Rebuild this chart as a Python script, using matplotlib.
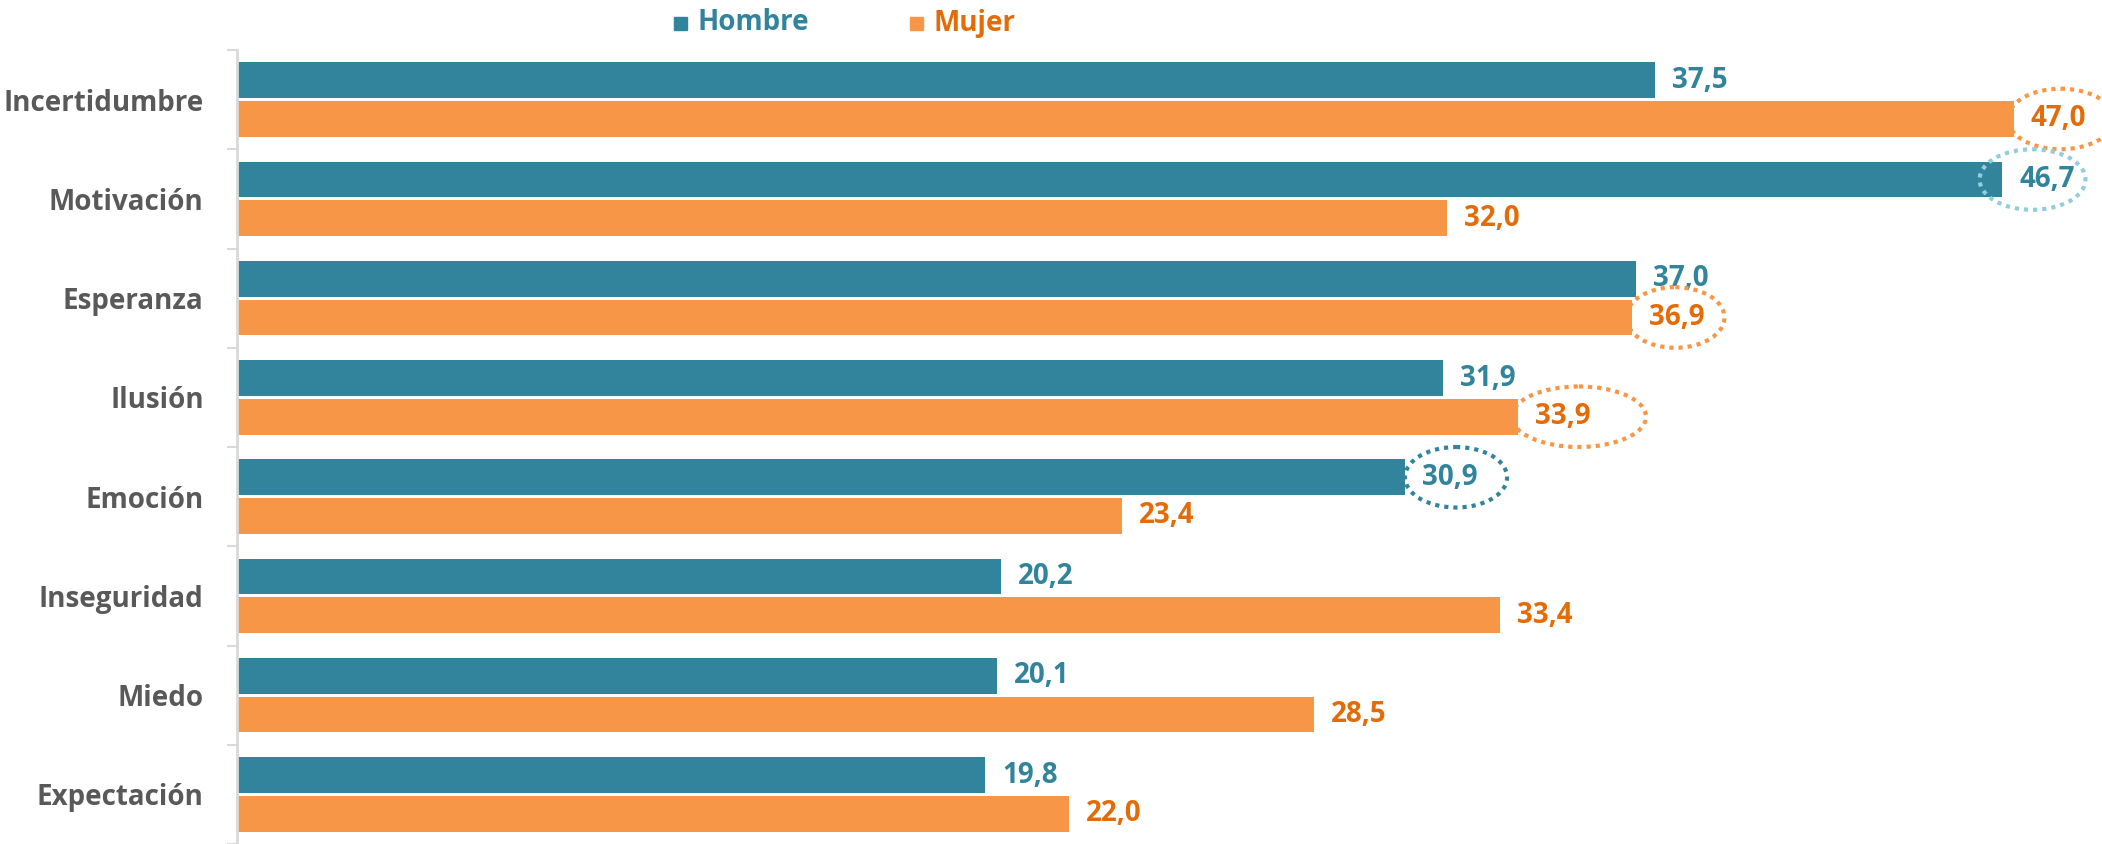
import matplotlib
matplotlib.use("Agg")
import matplotlib.pyplot as plt
from matplotlib.patches import Ellipse, Rectangle
import numpy as np

plt.rcParams["font.family"] = ["Open Sans", "DejaVu Sans"]

categories = ["Incertidumbre", "Motivación", "Esperanza", "Ilusión",
              "Emoción", "Inseguridad", "Miedo", "Expectación"]
hombre = [37.5, 46.7, 37.0, 31.9, 30.9, 20.2, 20.1, 19.8]
mujer = [47.0, 32.0, 36.9, 33.9, 23.4, 33.4, 28.5, 22.0]

# highlighted labels: (series, category index, x offset from bar end, width)
highlights = [
    ("mujer", 0, 1.25, 2.8),
    ("hombre", 1, 0.8, 2.8),
    ("mujer", 2, 1.15, 2.6),
    ("mujer", 3, 1.6, 3.55),
    ("hombre", 4, 1.35, 2.7),
]

C_H = "#31849B"
C_M = "#F79646"
T_H = "#31849B"
T_M = "#E36C09"
RING = {"hombre": C_H, "mujer": C_M}
RING_SPECIAL = {1: "#92CDDC"}
GRAY = "#595959"

W, H = 2102, 844
fig = plt.figure(figsize=(W / 100, H / 100), dpi=100)
ax = fig.add_axes([237 / W, 0, 1 - 237 / W, 1 - 50 / H])

y = np.arange(len(categories))
bh = 0.36
off = 0.195
ax.barh(y - off, hombre, height=bh, color=C_H, zorder=2)
ax.barh(y + off, mujer, height=bh, color=C_M, zorder=2)

ax.set_xlim(0, (W - 237) / 37.8)
ax.set_ylim((H - 100) / 99.7, -0.5)

for i in range(len(categories)):
    ax.text(hombre[i] + 0.45, y[i] - off, f"{hombre[i]:.1f}".replace(".", ","),
            color=T_H, fontsize=20, fontweight="bold", va="center", ha="left")
    ax.text(mujer[i] + 0.45, y[i] + off, f"{mujer[i]:.1f}".replace(".", ","),
            color=T_M, fontsize=20, fontweight="bold", va="center", ha="left")

for series, i, dx, w in highlights:
    vals = hombre if series == "hombre" else mujer
    yc = y[i] - off if series == "hombre" else y[i] + off
    col = RING_SPECIAL.get(i, RING[series])
    e = Ellipse((vals[i] + dx, yc), w, 0.61, fill=False, edgecolor=col,
                linewidth=3, linestyle=(0, (1, 1.2)), zorder=3, clip_on=False)
    ax.add_patch(e)

ax.set_yticks(y)
ax.set_yticklabels(categories, fontsize=20, fontweight="bold", color=GRAY)
ax.set_yticks(np.arange(-0.5, len(categories), 1), minor=True)
ax.tick_params(axis="y", which="major", length=0, pad=24)
ax.tick_params(axis="y", which="minor", length=7, width=1.5, color="#D9D9D9")
ax.set_xticks([])
for s in ["top", "right", "bottom"]:
    ax.spines[s].set_visible(False)
ax.spines["left"].set_color("#D9D9D9")
ax.spines["left"].set_linewidth(2)

# legend
fig.patches.append(Rectangle((674 / W, 1 - 30 / H), 13 / W, 13 / H,
                             transform=fig.transFigure, color=C_H))
fig.text(697 / W, 1 - 23 / H, "Hombre", color=T_H, fontsize=20,
         fontweight="bold", va="center", ha="left")
fig.patches.append(Rectangle((910 / W, 1 - 30 / H), 13 / W, 13 / H,
                             transform=fig.transFigure, color=C_M))
fig.text(933 / W, 1 - 23 / H, "Mujer", color=T_M, fontsize=20,
         fontweight="bold", va="center", ha="left")

fig.savefig("out.png", dpi=100)
